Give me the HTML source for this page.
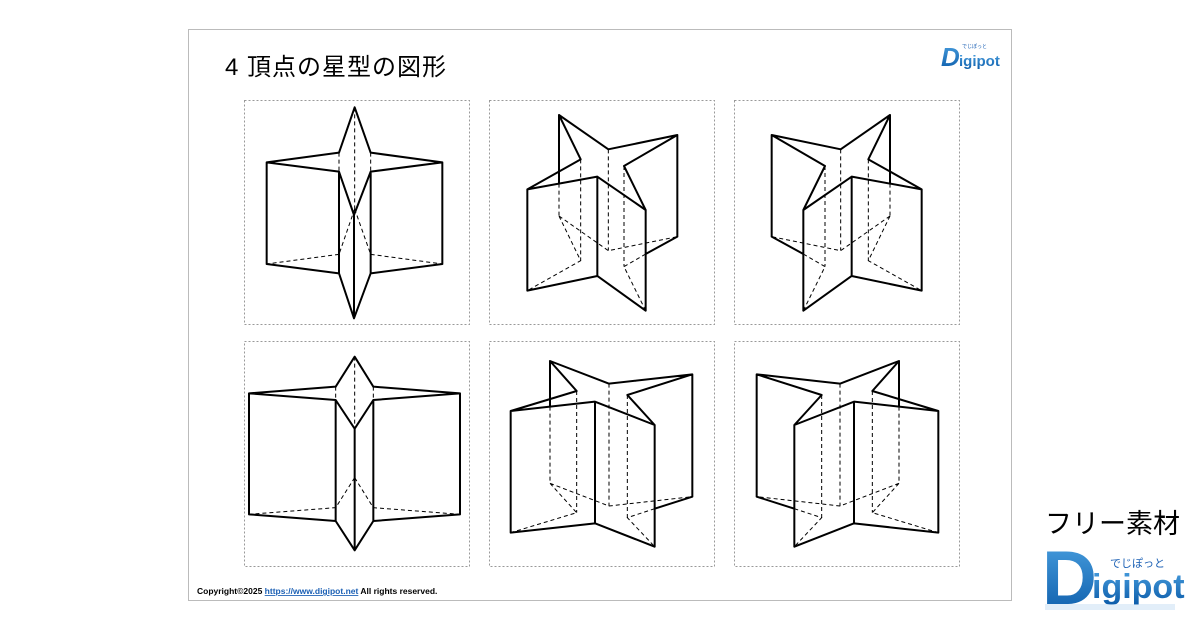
<!DOCTYPE html>
<html><head><meta charset="utf-8"><style>
html,body{margin:0;padding:0;background:#fff;}
body{width:1200px;height:630px;position:relative;overflow:hidden;font-family:"Liberation Sans","Noto Sans CJK JP",sans-serif;}
</style></head><body>
<svg width="1200" height="630" viewBox="0 0 1200 630" xmlns="http://www.w3.org/2000/svg" style="position:absolute;left:0;top:0">
<defs>
<linearGradient id="bl" x1="0" y1="0" x2="0" y2="1"><stop offset="0" stop-color="#4aa0e0"/><stop offset="1" stop-color="#0a5aa8"/></linearGradient>
<style>
.s{fill:none;stroke:#000;stroke-width:6;stroke-linejoin:round;stroke-linecap:round}
.d{fill:none;stroke:#000;stroke-width:3;stroke-dasharray:12 9}
.bx{fill:none;stroke:#999;stroke-width:1;stroke-dasharray:2 2}
</style>
<g id="p1">
<path class="d" d="M332,22V327 M285,158V215 M380,158V215 M332,327L285,463 M332,327L380,463 M285,463L68,492 M380,463L595,492"/>
<path class="s" d="M332,22L380,158L595,187L380,215L330,345L285,215L68,187L285,158Z M68,187V492 M595,187V492 M285,215V520 M380,215V520 M330,345V655 M68,492L285,520L330,655L380,520L595,492"/>
</g>
<g id="p2">
<path class="d" d="M210,251V348 M275,178V482 M358,148V452 M405,198V500 M210,348L275,482L115,572 M210,348L358,452L565,410 M470,462L405,500L470,632"/>
<path class="s" d="M210,45L358,148L565,105L405,198L470,330L325,230L115,268L275,178Z M210,45V251 M565,105V410 M470,330V632 M115,268V572 M325,230V528 M115,572L325,528L470,632 M565,410L470,462"/>
</g>
<g id="p4">
<path class="d" d="M332,47V410 M275,137V177 M388,137V177 M332,410L275,500L15,520 M332,410L388,500L648,520"/>
<path class="s" d="M332,47L388,137L648,157L388,177L332,263L275,177L15,157L275,137Z M15,157V520 M648,157V520 M275,177V540 M388,177V540 M332,263V628 M15,520L275,540L332,628L388,540L648,520"/>
</g>
<g id="p5">
<path class="d" d="M183,197V427 M263,150V515 M360,128V495 M415,162V530 M183,427L263,515L65,575 M183,427L360,495L610,467 M497,503L415,530L497,617"/>
<path class="s" d="M183,60L360,128L610,100L415,162L497,252L318,182L65,210L263,150Z M183,60V197 M610,100V467 M497,252V617 M65,210V575 M318,182V547 M65,575L318,547L497,617 M610,467L497,503"/>
</g>
</defs>
<rect x="188.5" y="29.5" width="823" height="571" fill="none" stroke="#bbb"/>
<text x="225" y="75" font-size="24" letter-spacing="1" font-family="Liberation Sans,Noto Sans CJK JP,sans-serif">4 頂点の星型の図形</text>
<rect class="bx" x="244.5" y="100.5" width="225" height="224"/>
<rect class="bx" x="489.5" y="100.5" width="225" height="224"/>
<rect class="bx" x="734.5" y="100.5" width="225" height="224"/>
<rect class="bx" x="244.5" y="341.5" width="225" height="225"/>
<rect class="bx" x="489.5" y="341.5" width="225" height="225"/>
<rect class="bx" x="734.5" y="341.5" width="225" height="225"/>
<use href="#p1" transform="translate(244,100) scale(0.33333)"/>
<use href="#p2" transform="translate(489,100) scale(0.33333)"/>
<use href="#p2" transform="translate(960,100) scale(-0.33333,0.33333)"/>
<use href="#p4" transform="translate(244,341) scale(0.33333)"/>
<use href="#p5" transform="translate(489,341) scale(0.33333)"/>
<use href="#p5" transform="translate(960,341) scale(-0.33333,0.33333)"/>
<text x="197" y="594" font-size="8.5" font-weight="bold">Copyright©2025 <tspan fill="#1a5fb4" text-decoration="underline">https://www.digipot.net</tspan> All rights reserved.</text>
<text x="941" y="66" font-size="26" font-weight="bold" fill="url(#bl)" font-style="italic">D</text>
<text x="959" y="66" font-size="15" font-weight="bold" fill="url(#bl)">igipot</text>
<text x="962" y="48" font-size="5" fill="#1a5fb4">でじぽっと</text>
<text x="1045" y="533" font-size="27" font-family="Liberation Sans,Noto Sans CJK JP,sans-serif">フリー素材</text>
<text x="1042" y="604" font-size="76" font-weight="bold" fill="url(#bl)">D</text>
<text x="1092" y="598" font-size="34" font-weight="bold" fill="url(#bl)">igipot</text>
<text x="1110" y="567" font-size="11" fill="#1a5fb4" font-family="Noto Sans CJK JP,sans-serif">でじぽっと</text>
<rect x="1045" y="604" width="130" height="6" fill="#cfe3f5" opacity="0.6"/>
</svg>
</body></html>
